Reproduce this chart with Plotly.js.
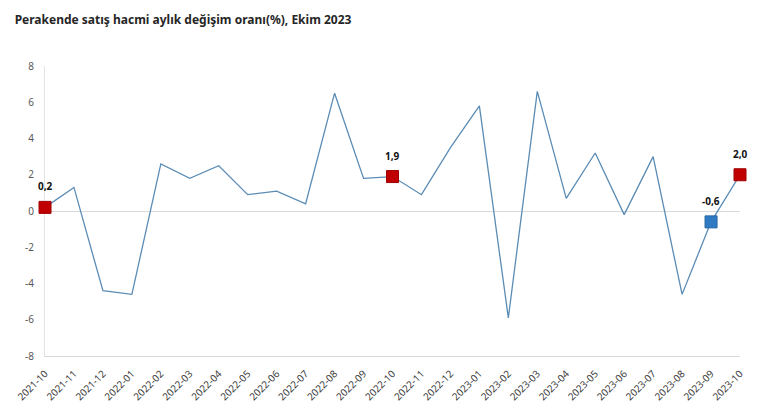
<!DOCTYPE html>
<html>
<head>
<meta charset="utf-8">
<script src="https://cdn.plot.ly/plotly-3.0.1.min.js"></script>
<style>html,body{margin:0;padding:0;background:#fff;}#chart{width:770px;height:417px;}</style>
</head>
<body>
<div id="chart"></div>
<script>
const months = ["2021-10","2021-11","2021-12","2022-01","2022-02","2022-03","2022-04","2022-05","2022-06","2022-07","2022-08","2022-09","2022-10","2022-11","2022-12","2023-01","2023-02","2023-03","2023-04","2023-05","2023-06","2023-07","2023-08","2023-09","2023-10"];
const values = [0.2,1.3,-4.4,-4.6,2.6,1.8,2.5,0.9,1.1,0.4,6.5,1.8,1.9,0.9,3.5,5.8,-5.9,6.6,0.7,3.2,-0.2,3.0,-4.6,-0.6,2.0];
const redMonths = ["2021-10","2022-10","2023-10"];
const redLabels = ["0,2","1,9","2,0"];
const blueMonths = ["2023-09"];
const blueLabels = ["-0,6"];
const yTicks = [-8,-6,-4,-2,0,2,4,6,8];

const valOf = m => values[months.indexOf(m)];

const traces = [
  {x: months, y: values, type: 'scatter', mode: 'lines',
   line: {color: '#5b8cb5', width: 1.3}, hoverinfo: 'skip', cliponaxis: false},
  {x: redMonths, y: redMonths.map(valOf), type: 'scatter', mode: 'markers',
   marker: {symbol: 'square', size: 12, color: '#c00000', line: {color: '#a00000', width: 1}},
   cliponaxis: false},
  {x: blueMonths, y: blueMonths.map(valOf), type: 'scatter', mode: 'markers',
   marker: {symbol: 'square', size: 12, color: '#2e7bc4', line: {color: '#2565a3', width: 1}},
   cliponaxis: false}
];

const labelFont = {family: 'Noto Sans, sans-serif', size: 10, color: '#111'};
const annotations = [];
redMonths.forEach((m, i) => annotations.push({x: m, y: valOf(m), text: '<b>' + redLabels[i] + '</b>',
  showarrow: false, yshift: 21, font: labelFont}));
blueMonths.forEach((m, i) => annotations.push({x: m, y: valOf(m), text: '<b>' + blueLabels[i] + '</b>',
  showarrow: false, yshift: 21, font: labelFont}));

const layout = {
  width: 770, height: 417,
  margin: {l: 45, r: 30, t: 66, b: 61},
  paper_bgcolor: '#fff', plot_bgcolor: '#fff',
  showlegend: false,
  annotations: annotations,
  title: {text: '<b>Perakende satış hacmi aylık değişim oranı(%), Ekim 2023</b>',
          x: 0.019, xanchor: 'left', y: 0.952, yanchor: 'middle',
          font: {family: 'Noto Sans, sans-serif', size: 12, color: '#262626'}},
  xaxis: {type: 'category', categoryorder: 'array', categoryarray: months,
          range: [0, 24], showgrid: false, zeroline: false, layer: 'below traces',
          showline: true, linecolor: '#d9d9d9', linewidth: 1,
          tickangle: -45, ticks: 'outside', ticklen: 7, tickcolor: 'rgba(0,0,0,0)',
          tickfont: {family: 'Noto Sans, sans-serif', size: 10, color: '#404040'},
          fixedrange: true},
  yaxis: {range: [-8, 8], tickvals: yTicks, ticktext: yTicks.map(String),
          showgrid: false, zeroline: true, zerolinecolor: '#d9d9d9', zerolinewidth: 1,
          showline: true, linecolor: '#e3e3e3', linewidth: 1, layer: 'below traces',
          ticks: 'outside', ticklen: 8, tickcolor: 'rgba(0,0,0,0)',
          tickfont: {family: 'Noto Sans, sans-serif', size: 10, color: '#595959'},
          fixedrange: true}
};

Plotly.newPlot('chart', traces, layout, {displayModeBar: false, staticPlot: true});
</script>
</body>
</html>
